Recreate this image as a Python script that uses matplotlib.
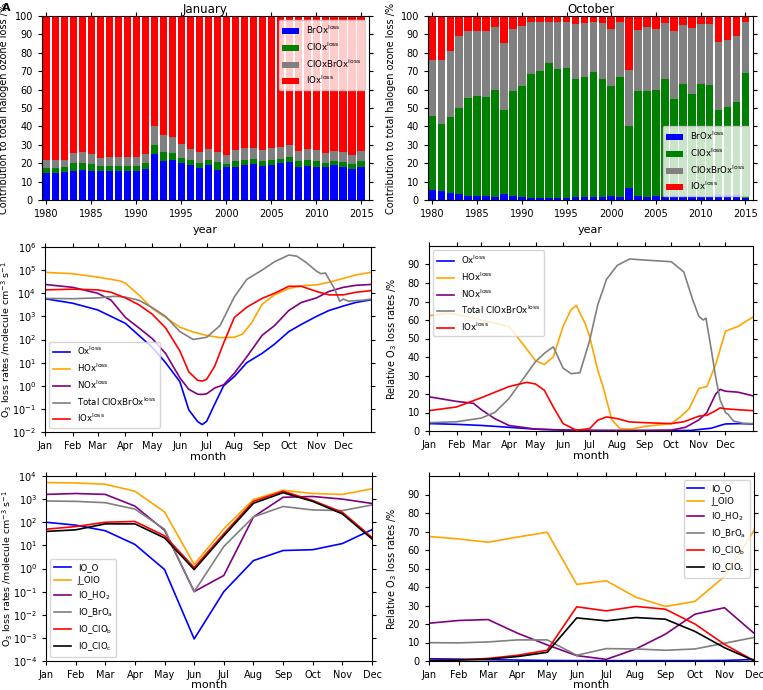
import numpy as np
import matplotlib
matplotlib.use("Agg")
from matplotlib import pyplot as plt

# ---- panel A / B : yearly contributions (%), cumulative tops
years = np.arange(1980, 2016)

jan_brox = [14.5, 14.5, 15, 16, 16.5, 16, 15.5, 15.5, 16, 15.5, 15.5, 17, 25, 21, 22, 20, 19, 17.5,
            19, 16.5, 18, 18, 19, 19.5, 18.5, 19, 20, 20.5, 18, 18.5, 18, 18, 19, 18, 17, 18]
jan_clox_top = [17.5, 17.5, 18, 20, 20, 19.5, 18.5, 18.5, 18.5, 18.5, 18.5, 20, 30, 26, 25.5, 23, 21.5, 20,
                22, 20.5, 19.5, 21, 22, 22.5, 21, 22, 22.5, 23.5, 21, 21.5, 21, 20, 21, 20.5, 19.5, 21]
jan_clbr_top = [21.5, 21.5, 22, 25.5, 26, 25, 23, 23.5, 23.5, 23.5, 23.5, 25, 40, 35.5, 34, 30.5, 27.5, 26,
                27.5, 26, 24.5, 27, 28, 28.5, 27, 28, 29, 30, 26.5, 27.5, 27, 25.5, 26.5, 26, 24.5, 26.5]

oct_brox = [5.5, 5, 4, 3, 2, 2, 2, 1.5, 3, 2, 1.5, 1, 1, 1, 1, 1, 1.5, 1.5, 1.5, 1.5, 2, 1.5,
            6.5, 2, 1.5, 2, 1.5, 2.5, 2, 2, 1.5, 1.5, 3.5, 3, 3, 1]
oct_clox_top = [45.5, 41.5, 45, 50, 55.5, 56.5, 56, 60, 49, 59, 62, 68.5, 70, 74.5, 71, 72, 66, 67, 69.5, 66,
                62, 67, 40, 59.5, 59.5, 60, 66, 55, 63, 57.5, 63, 62.5, 49, 50.5, 53.5, 69]
oct_clbr_top = [76, 76, 81, 89, 92, 92, 92, 94, 85.5, 93, 94.5, 96.5, 96.5, 97, 96.5, 97, 95.5, 96, 96.5, 96,
                93, 96.5, 70.5, 92.5, 94, 93, 96, 92, 95, 93.5, 95.5, 95.5, 86, 87, 89, 96.5]

# ---- panel C / D : daily series (day of year, values)
ox_days = [0, 31, 59, 90, 120, 135, 151, 161, 171, 176, 181, 190, 200, 212, 226, 243, 257, 273, 287, 304, 318, 334, 348, 365]
ox_rate = [5.8e3, 3.7e3, 1.9e3, 5.0e2, 46, 10, 1.5, 0.09, 0.028, 0.021, 0.029, 0.16, 1.0, 2.5, 10, 25, 63, 220, 450,
           1.0e3, 1.8e3, 2.8e3, 4.0e3, 5.2e3]

hox_days = [0, 31, 59, 84, 90, 105, 120, 135, 151, 166, 181, 196, 212, 221, 231, 243, 257, 273, 287, 304, 318, 334, 348, 365]
hox_rate = [8.0e4, 7.0e4, 5.0e4, 3.4e4, 2.7e4, 8.5e3, 2.2e3, 9.0e2, 3.4e2, 2.1e2, 1.5e2, 1.2e2, 1.25e2, 1.7e2, 5.0e2,
            3.3e3, 8.5e3, 1.6e4, 2.1e4, 2.3e4, 3.0e4, 4.4e4, 6.2e4, 8.0e4]

nox_days = [0, 31, 59, 74, 90, 105, 120, 135, 151, 161, 171, 176, 181, 190, 200, 212, 226, 243, 257, 273, 287, 304, 318, 334, 348, 365]
nox_rate = [2.4e4, 1.8e4, 1.0e4, 5.0e3, 9.0e2, 3.2e2, 1.1e2, 25, 2.2, 0.7, 0.43, 0.42, 0.45, 0.8, 1.1, 3.5, 18, 150,
            400, 1.8e3, 4.0e3, 6.3e3, 1.2e4, 1.8e4, 2.2e4, 2.4e4]

clbr_days = [0, 31, 59, 78, 90, 105, 120, 135, 151, 166, 181, 196, 212, 226, 243, 257, 273, 282, 292, 304, 309, 314,
             318, 324, 330, 334, 340, 348, 356, 365]
clbr_rate = [6.0e3, 5.8e3, 6.3e3, 7.4e3, 6.8e3, 5.0e3, 2.4e3, 1.0e3, 2.2e2, 1.0e2, 1.25e2, 4.0e2, 7.0e3, 4.0e4, 1.0e5,
             2.3e5, 4.5e5, 4.0e5, 2.2e5, 9.0e4, 7.0e4, 7.5e4, 4.0e4, 1.6e4, 4.5e3, 5.6e3, 4.5e3, 4.8e3, 5.0e3, 5.6e3]

iox_days = [0, 31, 59, 74, 90, 105, 120, 135, 151, 161, 171, 176, 181, 190, 200, 212, 226, 243, 257, 273, 287, 304, 318, 334, 348, 365]
iox_rate = [1.4e4, 1.5e4, 1.4e4, 1.1e4, 6.3e3, 3.2e3, 1.25e3, 3.2e2, 32, 4, 1.7, 1.6, 1.9, 7, 70, 9.0e2, 2.5e3, 6.0e3,
            1.0e4, 2.0e4, 2.0e4, 1.2e4, 8.5e3, 8.5e3, 1.1e4, 1.3e4]

ox_rel_days = [0, 31, 59, 90, 120, 151, 181, 212, 243, 273, 295, 304, 318, 328, 334, 350, 365]
ox_rel = [4.0, 3.6, 3.0, 2.0, 1.0, 0.5, 0.3, 0.2, 0.2, 0.2, 0.3, 0.8, 1.5, 3.0, 3.8, 4.0, 3.8]

hox_rel_days = [0, 20, 31, 59, 90, 105, 120, 130, 140, 151, 160, 166, 176, 181, 190, 196, 206, 215, 228, 243, 273, 283,
                293, 304, 313, 323, 334, 348, 365]
hox_rel = [62.3, 63.5, 63, 60, 56.5, 47.5, 38, 36, 40, 56.5, 65.6, 67.8, 58, 51, 33, 24, 6, 1.3, 1, 2.5, 4, 7.6, 12,
           23, 24, 36, 54, 56.5, 61.6]

nox_rel_days = [0, 31, 50, 59, 74, 90, 105, 120, 151, 181, 212, 243, 273, 289, 304, 313, 323, 328, 334, 348, 365]
nox_rel = [18.5, 16, 15, 11.5, 6.7, 3, 2, 1, 0.5, 0.3, 0.3, 0.3, 0.5, 2, 6, 10, 20, 22.5, 21.5, 21, 19]

clbr_rel_days = [0, 31, 59, 74, 90, 105, 120, 130, 140, 151, 160, 170, 181, 190, 200, 212, 226, 243, 273, 287, 297,
                 304, 309, 312, 318, 323, 328, 334, 337, 343, 354, 365]
clbr_rel = [4.5, 5, 7, 10, 17.5, 27.5, 37.5, 42, 45.5, 34, 31, 31.5, 49, 68, 82, 89.5, 93, 92.4, 91.5, 86, 71, 62, 60,
            61, 44, 29, 16.7, 10, 9, 5.4, 4.2, 4]

iox_rel_days = [0, 31, 59, 90, 110, 120, 130, 140, 151, 166, 181, 190, 200, 212, 226, 243, 273, 287, 304, 313, 323,
                328, 334, 348, 365]
iox_rel = [11, 13, 18, 24, 26.3, 25.4, 22, 13, 4, 0.4, 1.3, 5.8, 7.6, 6.7, 4.9, 4.5, 4, 5, 8, 8.5, 11, 12.5, 12, 11.5, 11]

# ---- panel E / F : monthly IOx reaction terms
months = ["Jan", "Feb", "Mar", "Apr", "May", "Jun", "Jul", "Aug", "Sep", "Oct", "Nov", "Dec"]
month_start = [0, 31, 59, 90, 120, 151, 181, 212, 243, 273, 304, 334]

io_o = [100, 75, 43, 11, 0.9, 9e-4, 0.1, 2.2, 6, 6.5, 12, 48]
j_oio = [5200, 5000, 4400, 2200, 280, 1.5, 52, 960, 2400, 1750, 1600, 2800]
io_ho2 = [1600, 1750, 1600, 500, 45, 0.1, 0.5, 170, 1200, 1300, 1000, 650]
io_broa = [830, 800, 700, 370, 50, 0.1, 9, 170, 480, 340, 320, 560]
io_clob = [50, 65, 100, 108, 26, 1.1, 32, 800, 2200, 870, 270, 22]
io_cloc = [40, 47, 85, 85, 21, 0.9, 26, 660, 1900, 800, 230, 19]

io_o_rel = [1.2, 1.0, 0.7, 0.5, 0.3, 0.2, 0.2, 0.2, 0.2, 0.2, 0.3, 0.8]
j_oio_rel = [67.3, 66, 64.2, 67, 69.6, 41.4, 43.4, 34.5, 29.5, 32.2, 45.7, 70.5]
io_ho2_rel = [20.4, 21.9, 22.4, 15, 8.7, 2.9, 0.9, 6.5, 14.5, 25.3, 28.8, 15]
io_broa_rel = [9.9, 9.8, 10.3, 11.4, 11.4, 3.1, 6.7, 6.5, 5.8, 6.5, 9.6, 12.7]
io_clob_rel = [0.4, 0.6, 1.4, 3.1, 5.8, 29.3, 27.1, 29.5, 28, 20, 9, 0.2]
io_cloc_rel = [0.2, 0.5, 1.0, 2.4, 4.7, 23.3, 21.7, 23.5, 22.6, 16, 7.2, 0.2]

W, H = 763, 690
fig = plt.figure(figsize=(W / 100, H / 100), dpi=100)
fs = 7


def ax_at(l, t, r, b):
    ax = fig.add_axes([l / W, 1 - b / H, (r - l) / W, (b - t) / H])
    ax.tick_params(direction="out", top=True, right=True, labelsize=fs, length=3, width=0.8)
    return ax


sup = r"$^{\rm loss}$"
rate_label = r"O$_3$ loss rates /molecule cm$^{-3}$ s$^{-1}$"
rel_label = r"Relative O$_3$ loss rates /%"

# A and B
for (l, r), title, brox, clox, clbr, loc, lx in [((42, 369), "January", jan_brox, jan_clox_top, jan_clbr_top, "upper right", -0.1),
                                                 ((428, 753), "October", oct_brox, oct_clox_top, oct_clbr_top, "lower right", -0.1)]:
    ax = ax_at(l, 16, r, 200)
    brox = np.array(brox)
    clox = np.array(clox)
    clbr = np.array(clbr)
    w = 0.86
    ax.bar(years, brox, w, color="blue", label="BrOx" + sup)
    ax.bar(years, clox - brox, w, bottom=brox, color="green", label="ClOx" + sup)
    ax.bar(years, clbr - clox, w, bottom=clox, color="gray", label="ClOxBrOx" + sup)
    ax.bar(years, 100 - clbr, w, bottom=clbr, color="red", label="IOx" + sup)
    ax.set_xlim(1979.5, 2015.85)
    ax.set_ylim(0, 100)
    ax.set_xticks(range(1980, 2016, 5))
    ax.set_yticks(range(0, 101, 10))
    ax.set_title(title, fontsize=8.5, pad=2)
    ax.set_xlabel("year", fontsize=8)
    ax.set_ylabel("Contribution to total halogen ozone loss /%", fontsize=fs)
    ax.yaxis.set_label_coords(lx, 0.5)
    ax.legend(loc=loc, fontsize=6.2)

# C
ax = ax_at(45, 247, 371, 432)
ax.plot(ox_days, ox_rate, color="blue", lw=1.2, label="Ox" + sup)
ax.plot(hox_days, hox_rate, color="orange", lw=1.2, label="HOx" + sup)
ax.plot(nox_days, nox_rate, color="purple", lw=1.2, label="NOx" + sup)
ax.plot(clbr_days, clbr_rate, color="gray", lw=1.2, label="Total ClOxBrOx" + sup)
ax.plot(iox_days, iox_rate, color="red", lw=1.2, label="IOx" + sup)
ax.set_yscale("log")
ax.set_ylim(1e-2, 1e6)
ax.set_xlim(0, 365)
ax.set_xticks(month_start)
ax.set_xticklabels(months)
ax.minorticks_off()
ax.set_xlabel("month", fontsize=8, labelpad=1)
ax.set_ylabel(rate_label, fontsize=6.8)
ax.yaxis.set_label_coords(-0.094, 0.5)
ax.legend(loc="lower left", fontsize=6.2)

# D
ax = ax_at(429, 246, 753, 431)
ax.plot(ox_rel_days, ox_rel, color="blue", lw=1.2, label="Ox" + sup)
ax.plot(hox_rel_days, hox_rel, color="orange", lw=1.2, label="HOx" + sup)
ax.plot(nox_rel_days, nox_rel, color="purple", lw=1.2, label="NOx" + sup)
ax.plot(clbr_rel_days, clbr_rel, color="gray", lw=1.2, label="Total ClOxBrOx" + sup)
ax.plot(iox_rel_days, iox_rel, color="red", lw=1.2, label="IOx" + sup)
ax.set_ylim(0, 100)
ax.set_yticks(range(0, 91, 10))
ax.set_xlim(0, 365)
ax.set_xticks(month_start)
ax.set_xticklabels(months)
ax.set_xlabel("month", fontsize=8, labelpad=1)
ax.set_ylabel(rel_label, fontsize=fs)
ax.yaxis.set_label_coords(-0.093, 0.5)
ax.legend(loc="upper left", fontsize=6.2)

# E
names = ["IO_O", "J_OIO", r"IO_HO$_2$", r"IO_BrO$_{\rm a}$", r"IO_ClO$_{\rm b}$", r"IO_ClO$_{\rm c}$"]
colors = ["blue", "orange", "purple", "gray", "red", "black"]
x = np.arange(12)
ax = ax_at(46, 476, 372, 661)
for vals, name, c in zip([io_o, j_oio, io_ho2, io_broa, io_clob, io_cloc], names, colors):
    ax.plot(x, vals, color=c, lw=1.2, label=name)
ax.set_yscale("log")
ax.set_ylim(1e-4, 1e4)
ax.set_xlim(0, 11)
ax.set_xticks(x)
ax.set_xticklabels(months)
ax.minorticks_off()
ax.set_xlabel("month", fontsize=8, labelpad=0)
ax.set_ylabel(rate_label, fontsize=6.8)
ax.yaxis.set_label_coords(-0.096, 0.5)
ax.legend(loc="lower left", fontsize=6.2)

# F
ax = ax_at(429, 476, 754, 661)
for vals, name, c in zip([io_o_rel, j_oio_rel, io_ho2_rel, io_broa_rel, io_clob_rel, io_cloc_rel], names, colors):
    ax.plot(x, vals, color=c, lw=1.2, label=name)
ax.set_ylim(0, 100)
ax.set_yticks(range(0, 91, 10))
ax.set_xlim(0, 11)
ax.set_xticks(x)
ax.set_xticklabels(months)
ax.set_xlabel("month", fontsize=8, labelpad=0)
ax.set_ylabel(rel_label, fontsize=fs)
ax.yaxis.set_label_coords(-0.093, 0.5)
ax.legend(loc="upper right", fontsize=6.2)

fig.text(0.002, 0.995, "A", fontsize=8, fontweight="bold", va="top", ha="left")

fig.savefig("out.png", dpi=100)
